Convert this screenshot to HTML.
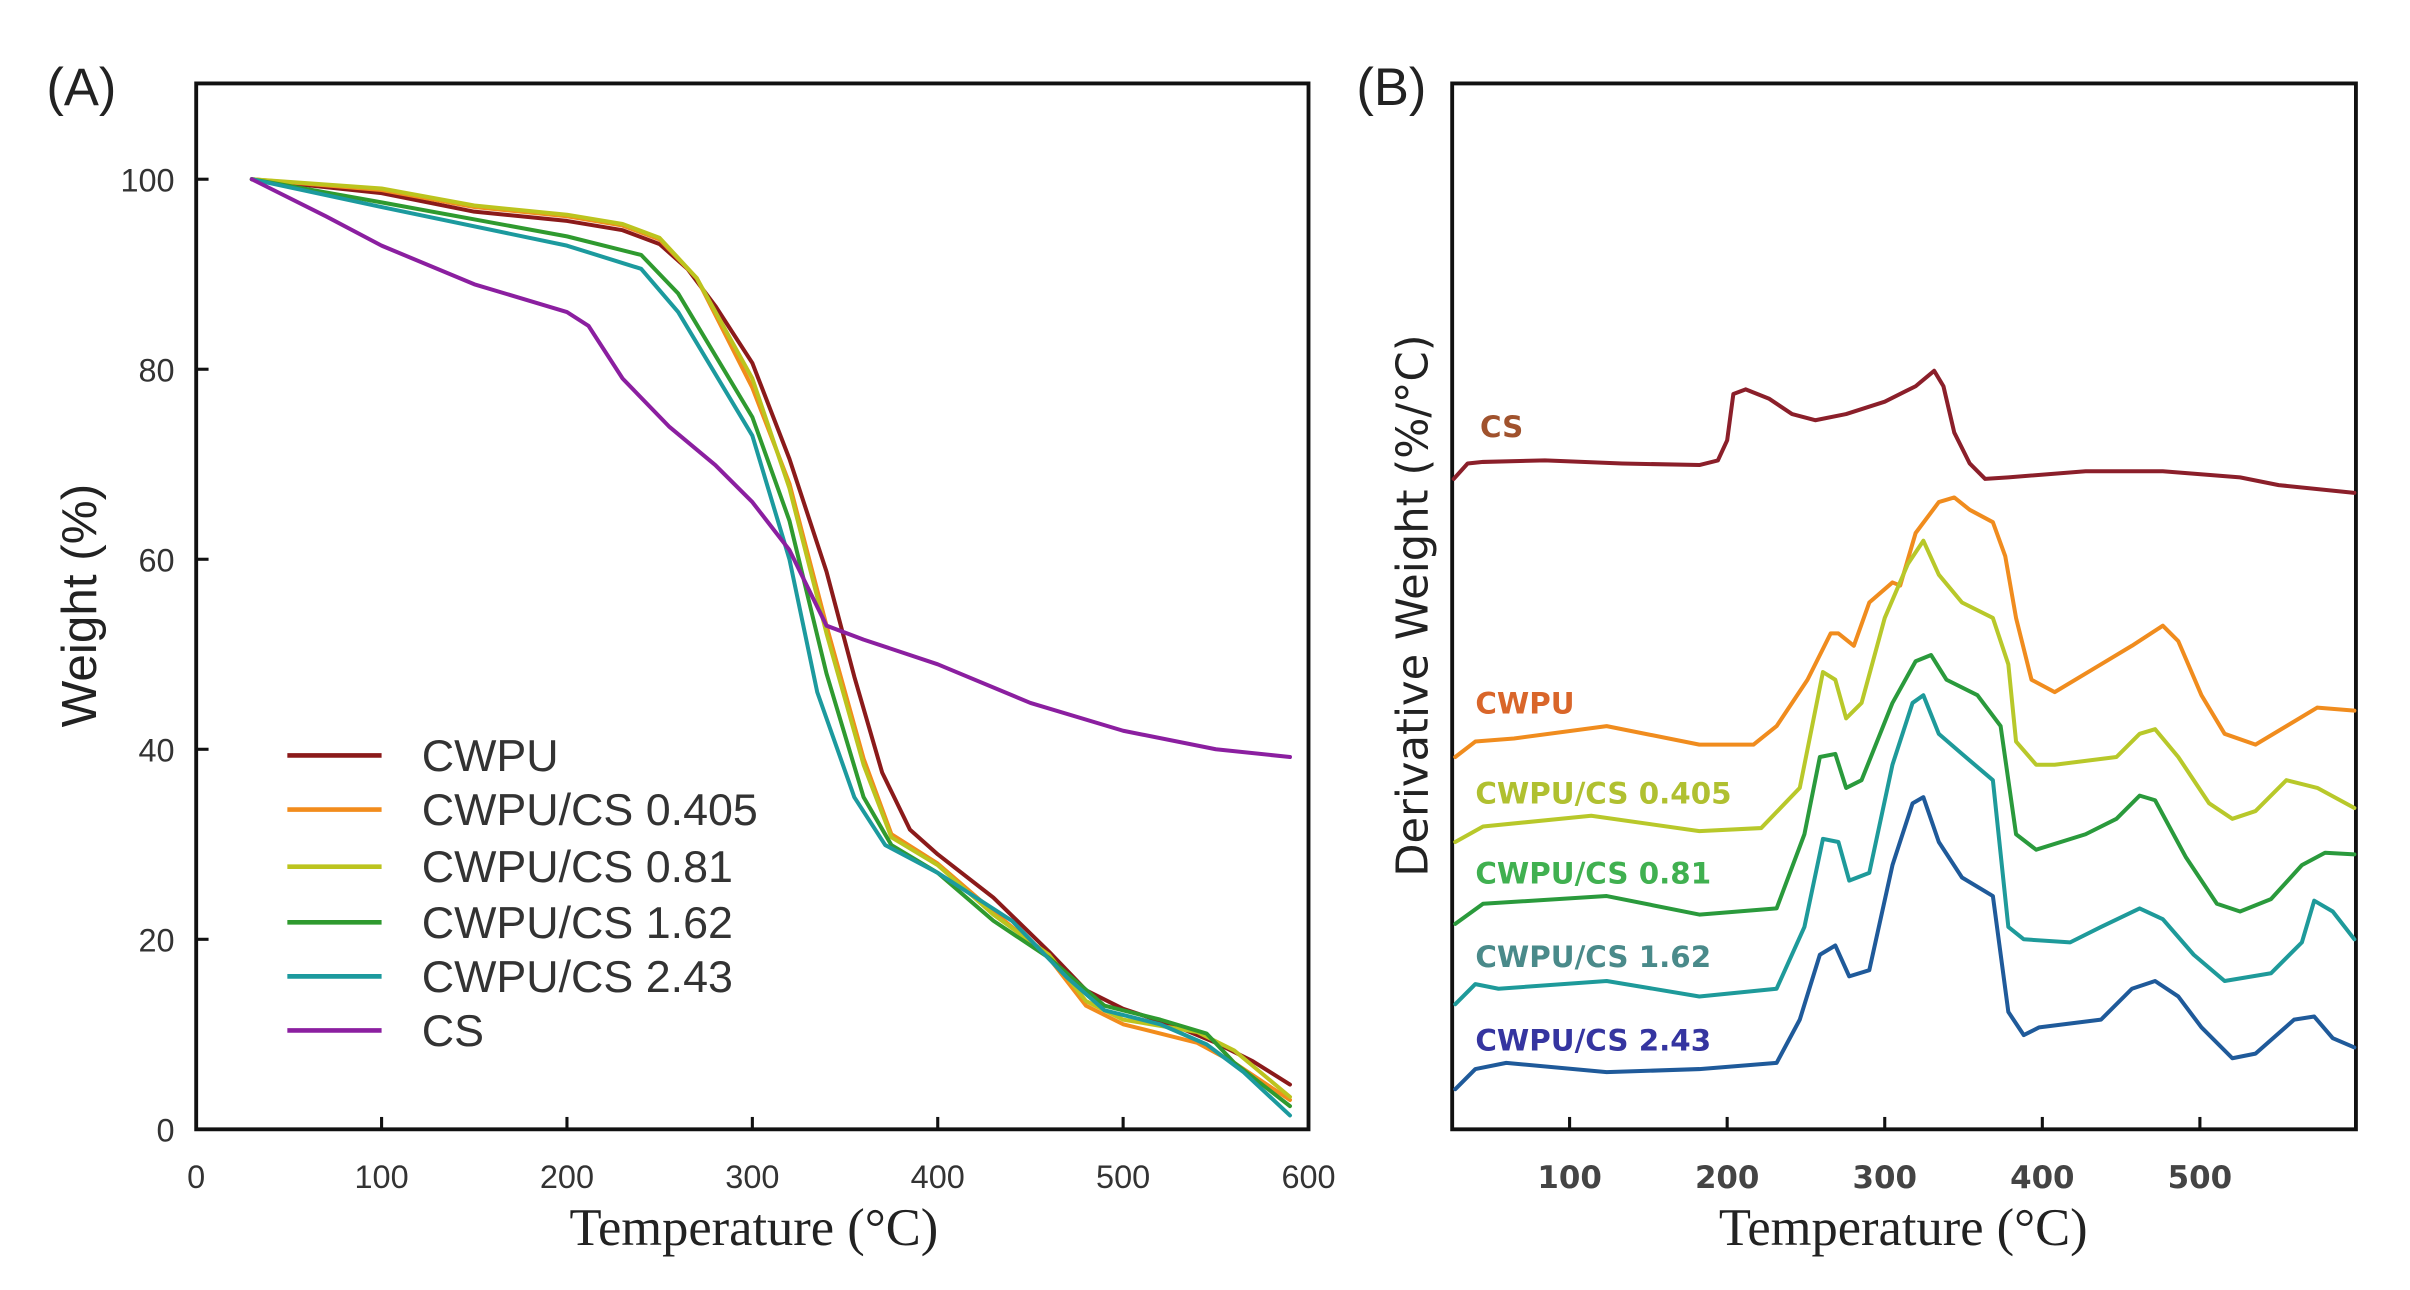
<!DOCTYPE html>
<html><head><meta charset="utf-8"><style>html,body{margin:0;padding:0;background:#fff}svg{display:block}</style></head>
<body>
<svg width="2410" height="1290" viewBox="0 0 1560 835" xmlns="http://www.w3.org/2000/svg">
<rect width="1560" height="835" fill="#fff"/>
<g font-family="Liberation Sans, sans-serif">
<text x="30" y="68" font-size="34" fill="#222">(A)</text>
<text x="878" y="68" font-size="34" fill="#222">(B)</text>
</g>
<!-- Panel A -->
<rect x="127" y="54" width="720" height="677" fill="none" stroke="#111" stroke-width="2.5"/>
<g stroke="#111" stroke-width="2">
<line x1="247" y1="731" x2="247" y2="723"/><line x1="367" y1="731" x2="367" y2="723"/><line x1="487" y1="731" x2="487" y2="723"/><line x1="607" y1="731" x2="607" y2="723"/><line x1="727" y1="731" x2="727" y2="723"/>
<line x1="127" y1="608" x2="135" y2="608"/><line x1="127" y1="485" x2="135" y2="485"/><line x1="127" y1="362" x2="135" y2="362"/><line x1="127" y1="239" x2="135" y2="239"/><line x1="127" y1="116" x2="135" y2="116"/>
</g>
<g font-family="Liberation Sans, sans-serif" font-size="21" fill="#333" text-anchor="middle">
<text x="127" y="769">0</text><text x="247" y="769">100</text><text x="367" y="769">200</text><text x="487" y="769">300</text><text x="607" y="769">400</text><text x="727" y="769">500</text><text x="847" y="769">600</text>
</g>
<g font-family="Liberation Sans, sans-serif" font-size="21" fill="#333" text-anchor="end">
<text x="113" y="739">0</text><text x="113" y="616">20</text><text x="113" y="493">40</text><text x="113" y="370">60</text><text x="113" y="247">80</text><text x="113" y="124">100</text>
</g>
<text x="488" y="806" font-family="Liberation Serif, serif" font-size="34" fill="#222" text-anchor="middle">Temperature (°C)</text>
<text transform="translate(62,392) rotate(-90)" font-family="Liberation Sans, sans-serif" font-size="32" fill="#222" text-anchor="middle">Weight (%)</text>
<g fill="none" stroke-width="2.6" stroke-linejoin="round" stroke-linecap="round">
<polyline stroke="#8b1a1a" points="163,116 247,125 307,137 367,143 403,149 427,158 445,174 463,198 487,235 511,297 535,370 553,438 571,500 589,537 607,553 643,581 679,616 703,641 727,653 763,665 787,675 811,687 835,702"/>
<polyline stroke="#f28c1c" points="163,116 247,123 307,134 367,140 403,146 427,155 451,180 487,251 511,313 535,405 559,491 577,540 607,559 643,590 679,620 703,651 727,663 775,675 799,688 835,712"/>
<polyline stroke="#bcc41e" points="163,116 247,122 307,133 367,139 403,145 427,154 451,180 487,245 511,316 535,410 559,495 577,542 607,560 643,592 679,618 703,648 727,660 775,668 799,680 835,710"/>
<polyline stroke="#2f9a2f" points="163,116 247,131 367,153 415,165 439,190 487,270 511,337 535,436 559,516 577,547 607,565 643,596 679,620 715,651 751,660 781,669 799,688 835,716"/>
<polyline stroke="#1c9a9e" points="163,116 247,134 367,159 415,174 439,202 487,282 511,362 529,448 553,516 573,547 607,565 655,596 691,633 715,654 751,663 781,676 805,694 835,722"/>
<polyline stroke="#8b1fa0" points="163,116 211,140 247,159 307,184 367,202 381,211 403,245 433,276 463,301 487,325 511,356 535,405 559,414 607,430 667,455 727,473 787,485 835,490"/>
</g>
<g stroke-width="3" fill="none">
<line x1="186" y1="489" x2="247" y2="489" stroke="#8b1a1a"/>
<line x1="186" y1="524" x2="247" y2="524" stroke="#f28c1c"/>
<line x1="186" y1="561" x2="247" y2="561" stroke="#bcc41e"/>
<line x1="186" y1="597" x2="247" y2="597" stroke="#2f9a2f"/>
<line x1="186" y1="632" x2="247" y2="632" stroke="#1c9a9e"/>
<line x1="186" y1="667" x2="247" y2="667" stroke="#8b1fa0"/>
</g>
<g font-family="Liberation Sans, sans-serif" font-size="29" fill="#333">
<text x="273" y="499">CWPU</text><text x="273" y="534">CWPU/CS 0.405</text><text x="273" y="571">CWPU/CS 0.81</text><text x="273" y="607">CWPU/CS 1.62</text><text x="273" y="642">CWPU/CS 2.43</text><text x="273" y="677">CS</text>
</g>
<!-- Panel B -->
<rect x="940" y="54" width="585" height="677" fill="none" stroke="#111" stroke-width="2.5"/>
<g stroke="#111" stroke-width="2">
<line x1="1016" y1="731" x2="1016" y2="723"/><line x1="1118" y1="731" x2="1118" y2="723"/><line x1="1220" y1="731" x2="1220" y2="723"/><line x1="1322" y1="731" x2="1322" y2="723"/><line x1="1424" y1="731" x2="1424" y2="723"/>
</g>
<g font-family="DejaVu Sans, sans-serif" font-size="20" font-weight="bold" fill="#444" text-anchor="middle">
<text x="1016" y="769">100</text><text x="1118" y="769">200</text><text x="1220" y="769">300</text><text x="1322" y="769">400</text><text x="1424" y="769">500</text>
</g>
<text x="1232" y="806" font-family="Liberation Serif, serif" font-size="34" fill="#222" text-anchor="middle">Temperature (°C)</text>
<text transform="translate(924,392) rotate(-90)" font-family="DejaVu Sans, sans-serif" font-size="28" fill="#222" text-anchor="middle">Derivative Weight (%/°C)</text>
<g fill="none" stroke-width="2.6" stroke-linejoin="round" stroke-linecap="round">
<polyline stroke="#8b1f2a" points="941,310 950,300 960,299 1000,298 1050,300 1100,301 1112,298 1118,285 1122,255 1130,252 1145,258 1160,268 1175,272 1195,268 1220,260 1240,250 1252,240 1258,250 1265,280 1275,300 1285,310 1300,309 1350,305 1400,305 1450,309 1475,314 1524,319"/>
<polyline stroke="#f08c1e" points="942,490 955,480 980,478 1040,470 1100,482 1135,482 1150,470 1170,440 1185,410 1190,410 1200,418 1210,390 1225,377 1230,379 1240,345 1255,325 1265,322 1275,330 1290,338 1298,360 1305,400 1315,440 1330,448 1360,430 1380,418 1400,405 1410,415 1425,450 1440,475 1460,482 1480,470 1500,458 1524,460"/>
<polyline stroke="#b8c82a" points="942,545 960,535 1030,528 1100,538 1140,536 1165,510 1180,435 1188,440 1195,465 1205,455 1220,400 1235,365 1245,350 1255,372 1270,390 1290,400 1300,430 1305,480 1318,495 1330,495 1370,490 1385,475 1395,472 1410,490 1430,520 1445,530 1460,525 1480,505 1500,510 1524,523"/>
<polyline stroke="#2a9a3c" points="942,598 960,585 1040,580 1100,592 1150,588 1168,540 1178,490 1188,488 1195,510 1205,505 1225,455 1240,428 1250,424 1260,440 1280,450 1295,470 1305,540 1318,550 1350,540 1370,530 1385,515 1395,518 1415,555 1435,585 1450,590 1470,582 1490,560 1505,552 1524,553"/>
<polyline stroke="#1e9a9a" points="942,650 955,637 970,640 1040,635 1100,645 1150,640 1168,600 1180,543 1190,545 1197,570 1210,565 1225,495 1238,455 1245,450 1255,475 1270,488 1290,505 1300,600 1310,608 1340,610 1360,600 1385,588 1400,595 1420,618 1440,635 1470,630 1490,610 1498,583 1510,590 1524,608"/>
<polyline stroke="#1f5a9a" points="942,705 955,692 975,688 1040,694 1100,692 1150,688 1165,660 1178,618 1188,612 1197,632 1210,628 1225,560 1238,520 1245,516 1255,545 1270,568 1290,580 1300,655 1310,670 1320,665 1360,660 1380,640 1395,635 1410,645 1425,665 1445,685 1460,682 1485,660 1498,658 1510,672 1524,678"/>
</g>
<g font-family="DejaVu Sans, sans-serif" font-size="19" font-weight="bold">
<text x="958" y="283" fill="#a0522d">CS</text>
<text x="955" y="462" fill="#d9662a">CWPU</text>
<text x="955" y="520" fill="#b0c030">CWPU/CS 0.405</text>
<text x="955" y="572" fill="#40b050">CWPU/CS 0.81</text>
<text x="955" y="626" fill="#4a8a8a">CWPU/CS 1.62</text>
<text x="955" y="680" fill="#3535a0">CWPU/CS 2.43</text>
</g>
</svg>
</body></html>
